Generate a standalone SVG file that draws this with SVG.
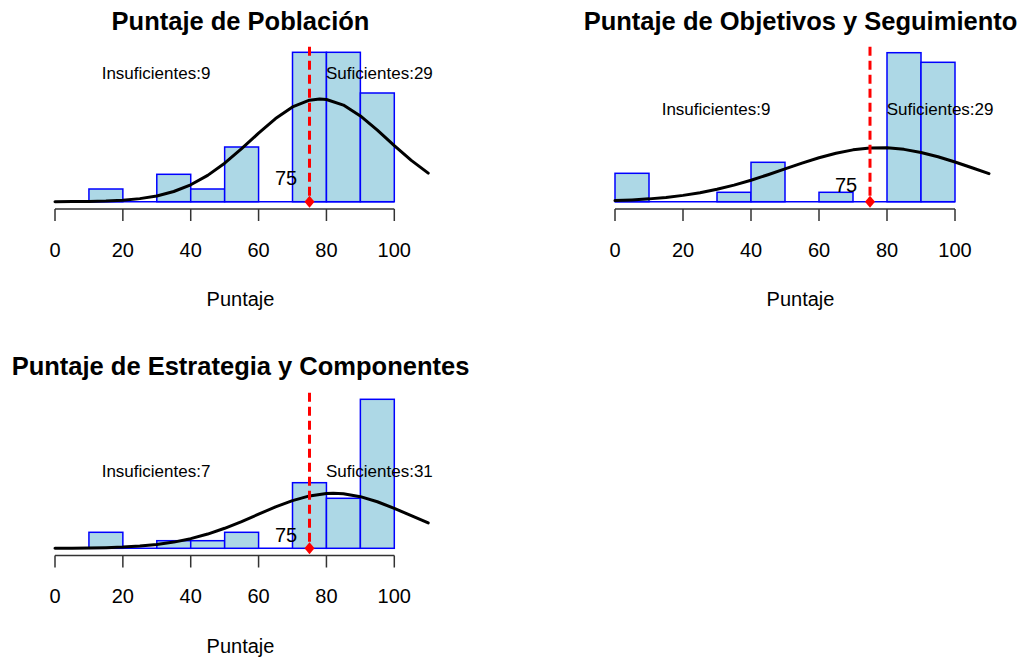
<svg xmlns="http://www.w3.org/2000/svg" width="1021" height="657" viewBox="0 0 1021 657">
<style>
text{font-family:"Liberation Sans",Arial,sans-serif;fill:#000}
.title{font-size:25.5px;font-weight:bold;text-anchor:middle}
.tick{font-size:20px;text-anchor:middle}
.xlab{font-size:20px;text-anchor:middle}
.lbl{font-size:17px}
.v75{font-size:20px}
.bar{fill:#ADD8E6;stroke:#0000FF;stroke-width:1.5}
.base{stroke:#0000FF;stroke-width:1.5}
.axis{stroke:#333;stroke-width:1.5;fill:none}
.curve{fill:none;stroke:#000;stroke-width:3;stroke-linejoin:round;stroke-linecap:round}
.thr{stroke:#FF0000;stroke-width:3;stroke-dasharray:9 5}
.mk{fill:#FF0000}
</style>
<rect width="1021" height="657" fill="#fff"/>

<g id="panel-poblacion">
<text class="title" x="240.5" y="30">Puntaje de Población</text>
<line class="base" x1="55" y1="201.7" x2="394.3" y2="201.7"/>
<rect class="bar" x="88.93" y="189" width="33.93" height="12.7"/>
<rect class="bar" x="156.79" y="174.3" width="33.93" height="27.4"/>
<rect class="bar" x="190.72" y="189" width="33.93" height="12.7"/>
<rect class="bar" x="224.65" y="147" width="33.93" height="54.7"/>
<rect class="bar" x="292.51" y="52.3" width="33.93" height="149.4"/>
<rect class="bar" x="326.44" y="52.3" width="33.93" height="149.4"/>
<rect class="bar" x="360.37" y="93" width="33.93" height="108.7"/>
<polyline class="curve" points="55,201.65 71.97,201.57 88.93,201.38 105.9,200.98 122.86,200.17 139.83,198.63 156.79,195.94 173.76,191.51 190.72,184.81 207.69,175.37 224.65,163.16 241.62,148.68 258.58,133.2 275.55,118.55 292.51,106.9 309.48,100.15 319.65,99 326.44,99.51 343.41,105.1 360.37,115.92 377.34,130.13 394.3,145.62 411.27,160.41 428.23,173.15"/>
<line class="thr" x1="309.5" y1="46.7" x2="309.5" y2="201.7"/>
<path class="mk" d="M309.5,195.7 L314.5,201.7 L309.5,207.7 L304.5,201.7 Z"/>
<text class="lbl" x="101.7" y="79">Insuficientes:9</text>
<text class="lbl" x="326" y="79">Suficientes:29</text>
<text class="v75" x="275" y="185">75</text>
<path class="axis" d="M55,209 H394.3 M55,209 V221 M122.86,209 V221 M190.72,209 V221 M258.58,209 V221 M326.44,209 V221 M394.3,209 V221"/>
<text class="tick" x="55" y="256.7">0</text>
<text class="tick" x="122.86" y="256.7">20</text>
<text class="tick" x="190.72" y="256.7">40</text>
<text class="tick" x="258.58" y="256.7">60</text>
<text class="tick" x="326.44" y="256.7">80</text>
<text class="tick" x="394.3" y="256.7">100</text>
<text class="xlab" x="240.5" y="306">Puntaje</text>
</g>

<g id="panel-objetivos">
<text class="title" x="800.5" y="30">Puntaje de Objetivos y Seguimiento</text>
<line class="base" x1="615" y1="201.7" x2="955" y2="201.7"/>
<rect class="bar" x="615" y="173.3" width="34" height="28.4"/>
<rect class="bar" x="717" y="192.3" width="34" height="9.4"/>
<rect class="bar" x="751" y="162.3" width="34" height="39.4"/>
<rect class="bar" x="819" y="192.3" width="34" height="9.4"/>
<rect class="bar" x="887" y="52.7" width="34" height="149"/>
<rect class="bar" x="921" y="62.3" width="34" height="139.4"/>
<polyline class="curve" points="615,200.59 632,199.9 649,198.87 666,197.4 683,195.38 700,192.69 717,189.27 734,185.09 751,180.2 768,174.74 785,168.95 802,163.16 819,157.78 836,153.22 853,149.86 870,148.01 887,147.83 904,149.36 921,152.44 938,156.79 955,162.04 972,167.78 989,173.6"/>
<line class="thr" x1="870" y1="46.7" x2="870" y2="201.7"/>
<path class="mk" d="M870,195.7 L875,201.7 L870,207.7 L865,201.7 Z"/>
<text class="lbl" x="661.7" y="115">Insuficientes:9</text>
<text class="lbl" x="886.7" y="115">Suficientes:29</text>
<text class="v75" x="835" y="191.7">75</text>
<path class="axis" d="M615,209 H955 M615,209 V221 M683,209 V221 M751,209 V221 M819,209 V221 M887,209 V221 M955,209 V221"/>
<text class="tick" x="615" y="256.7">0</text>
<text class="tick" x="683" y="256.7">20</text>
<text class="tick" x="751" y="256.7">40</text>
<text class="tick" x="819" y="256.7">60</text>
<text class="tick" x="887" y="256.7">80</text>
<text class="tick" x="955" y="256.7">100</text>
<text class="xlab" x="800.5" y="306">Puntaje</text>
</g>

<g id="panel-estrategia">
<text class="title" x="240.5" y="375">Puntaje de Estrategia y Componentes</text>
<line class="base" x1="55" y1="548.3" x2="394.3" y2="548.3"/>
<rect class="bar" x="88.93" y="532.3" width="33.93" height="16"/>
<rect class="bar" x="156.79" y="540.7" width="33.93" height="7.6"/>
<rect class="bar" x="190.72" y="540.7" width="33.93" height="7.6"/>
<rect class="bar" x="224.65" y="532.3" width="33.93" height="16"/>
<rect class="bar" x="292.51" y="482.7" width="33.93" height="65.6"/>
<rect class="bar" x="326.44" y="498.3" width="33.93" height="50"/>
<rect class="bar" x="360.37" y="399.3" width="33.93" height="149"/>
<polyline class="curve" points="55,548.23 71.97,548.14 88.93,547.97 105.9,547.65 122.86,547.07 139.83,546.08 156.79,544.49 173.76,542.1 190.72,538.67 207.69,534.07 224.65,528.29 241.62,521.53 258.58,514.2 275.55,506.96 292.51,500.59 309.48,495.9 326.44,493.52 333.2,493.3 343.41,493.79 360.37,496.67 377.34,501.75 394.3,508.36 411.27,515.69 428.23,522.95"/>
<line class="thr" x1="309.5" y1="392.7" x2="309.5" y2="548.3"/>
<path class="mk" d="M309.5,542.3 L314.5,548.3 L309.5,554.3 L304.5,548.3 Z"/>
<text class="lbl" x="101.7" y="477.3">Insuficientes:7</text>
<text class="lbl" x="326" y="477.3">Suficientes:31</text>
<text class="v75" x="275" y="541.7">75</text>
<path class="axis" d="M55,555.5 H394.3 M55,555.5 V567.5 M122.86,555.5 V567.5 M190.72,555.5 V567.5 M258.58,555.5 V567.5 M326.44,555.5 V567.5 M394.3,555.5 V567.5"/>
<text class="tick" x="55" y="602.7">0</text>
<text class="tick" x="122.86" y="602.7">20</text>
<text class="tick" x="190.72" y="602.7">40</text>
<text class="tick" x="258.58" y="602.7">60</text>
<text class="tick" x="326.44" y="602.7">80</text>
<text class="tick" x="394.3" y="602.7">100</text>
<text class="xlab" x="240.5" y="652.7">Puntaje</text>
</g>
</svg>
